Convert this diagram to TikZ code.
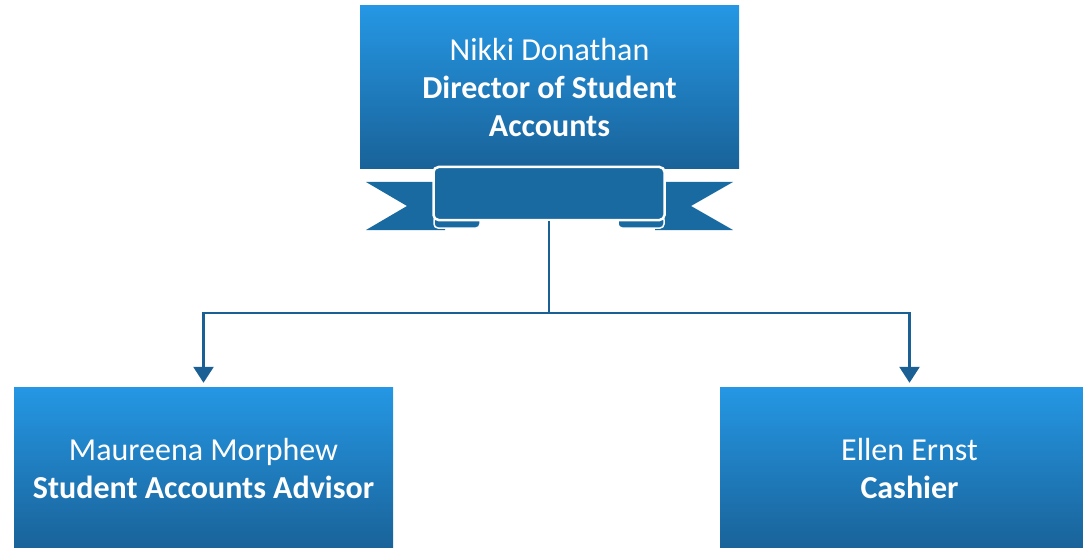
\documentclass[tikz,border=0pt]{standalone}
\usepackage{fontspec}
\setmainfont{Carlito}
\usepackage{xcolor}
\usepackage{tikz}
\usetikzlibrary{positioning,arrows.meta}

\definecolor{boxtop}{RGB}{37,151,228}
\definecolor{boxbot}{RGB}{25,98,152}
\definecolor{ribbon}{RGB}{24,106,161}
\definecolor{wire}{RGB}{26,96,148}

\begin{document}
\begin{tikzpicture}[
            x=1pt, y=-1pt,
            person/.style={rectangle, top color=boxtop, bottom color=boxbot, text=white,
                align=center, minimum width=379pt, minimum height=163pt, inner sep=0pt,
                font=\fontsize{32}{38}\selectfont},
            banner/.style={rectangle, rounded corners=5pt, fill=ribbon, draw=white,
                line width=2.5pt, minimum width=231pt, minimum height=53pt},
            link/.style={draw=wire, line width=2.6pt, -{Triangle[width=20pt,length=16pt]}, shorten >=4pt}
        ]
            \useasboundingbox (0,0) rectangle (1083,548);
            % Director
            \node[person] (director) at (549.5,87.5) {Nikki Donathan\\\textbf{Director of Student}\\\textbf{Accounts}};
            % Ribbon tails and curls
            \fill[ribbon] (366,182) -- (445,182) -- (445,230) -- (366,230) -- (407,206) -- cycle;
            \fill[ribbon] (733,182) -- (655,182) -- (655,230) -- (733,230) -- (691,206) -- cycle;
            \draw[fill=ribbon, draw=white, line width=1.5pt, rounded corners=4pt] (434,216) rectangle (480,228);
            \draw[fill=ribbon, draw=white, line width=1.5pt, rounded corners=4pt] (618,216) rectangle (664,228);
            \node[banner] (ribbon) at (549,193.5) {};
            % Staff
            \node[person] (advisor) at (203.5,468.5) {Maureena Morphew\\\textbf{Student Accounts Advisor}};
            \node[person] (cashier) at (909.5,468.5) {Ellen Ernst\\\textbf{Cashier}};
            % Connectors
            \coordinate (split) at (549,313);
            \draw[draw=wire, line width=2.6pt] (ribbon.south) -- (split);
            \draw[link] (split) -| (advisor.north);
            \draw[link] (split) -| (cashier.north);
        \end{tikzpicture}
\end{document}
